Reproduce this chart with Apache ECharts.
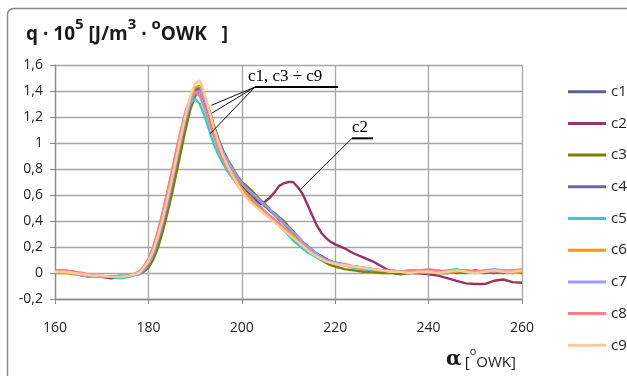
<!DOCTYPE html>
<html>
<head>
<meta charset="utf-8">
<script src="https://cdn.jsdelivr.net/npm/echarts@6/dist/echarts.min.js"></script>
<style>
  html, body { margin: 0; padding: 0; background: #fff; }
  #chart { width: 627px; height: 376px; }
</style>
</head>
<body>
<div id="chart"></div>
<script>
// crank angle samples (denser around the peak)
const alpha = [160, 162, 164, 166, 168, 170, 172, 174, 176,
  178, 179, 180, 181, 182, 183, 184, 185, 186, 187, 188, 189, 190, 191, 192, 193, 194, 195, 196, 197, 198, 199,
  200, 201, 202, 203, 204, 205, 206, 207, 208, 209, 210, 211, 212, 213, 214, 215, 216, 217, 218, 219, 220,
  222, 224, 226, 228, 230, 232, 234, 236, 238, 240, 242, 244, 246, 248, 250, 252, 254, 256, 258, 260]

const c1 = [0.02, 0.02, 0.01, -0.01, -0.02, -0.03, -0.03, -0.03, -0.02,
  0.00, 0.03, 0.08, 0.15, 0.26, 0.39, 0.54, 0.70, 0.87, 1.04, 1.20, 1.33, 1.42, 1.43, 1.34, 1.23, 1.11, 1.01, 0.92, 0.85, 0.79, 0.74,
  0.69, 0.66, 0.63, 0.59, 0.55, 0.52, 0.48, 0.45, 0.41, 0.38, 0.34, 0.31, 0.27, 0.24, 0.21, 0.18, 0.15, 0.13, 0.11, 0.09, 0.08,
  0.06, 0.05, 0.04, 0.03, 0.02, 0.02, 0.01, 0.01, 0.00, 0.01, 0.00, 0.01, 0.00, 0.01, 0.02, 0.01, 0.00, 0.01, 0.02, 0.01]
const c2 = [0.01, 0.01, 0.00, -0.02, -0.03, -0.03, -0.04, -0.03, -0.02,
  0.00, 0.03, 0.08, 0.16, 0.27, 0.40, 0.55, 0.71, 0.88, 1.05, 1.21, 1.33, 1.41, 1.40, 1.32, 1.22, 1.10, 1.00, 0.91, 0.84, 0.78, 0.72,
  0.67, 0.63, 0.59, 0.56, 0.53, 0.55, 0.58, 0.62, 0.67, 0.69, 0.70, 0.70, 0.66, 0.61, 0.53, 0.45, 0.37, 0.31, 0.27, 0.24, 0.22,
  0.19, 0.15, 0.12, 0.09, 0.05, 0.01, 0.00, 0.00, 0.00, -0.01, -0.02, -0.04, -0.06, -0.08, -0.085, -0.085, -0.06, -0.05, -0.07, -0.075]
const c3 = [0.01, 0.01, 0.00, -0.01, -0.02, -0.03, -0.03, -0.02, -0.02,
  -0.01, 0.01, 0.04, 0.10, 0.19, 0.31, 0.45, 0.60, 0.77, 0.94, 1.11, 1.26, 1.36, 1.40, 1.35, 1.26, 1.14, 1.03, 0.94, 0.87, 0.81, 0.75,
  0.70, 0.67, 0.64, 0.60, 0.56, 0.53, 0.49, 0.46, 0.43, 0.40, 0.36, 0.32, 0.28, 0.24, 0.20, 0.16, 0.13, 0.10, 0.08, 0.06, 0.05,
  0.03, 0.02, 0.01, 0.01, 0.00, 0.00, -0.01, 0.00, 0.00, 0.01, 0.00, 0.00, 0.01, 0.00, 0.01, 0.00, 0.01, 0.00, 0.01, 0.00]
const c4 = [0.01, 0.01, 0.00, -0.02, -0.03, -0.03, -0.03, -0.03, -0.02,
  0.00, 0.02, 0.07, 0.14, 0.25, 0.37, 0.52, 0.68, 0.85, 1.02, 1.18, 1.32, 1.41, 1.42, 1.35, 1.25, 1.13, 1.03, 0.94, 0.86, 0.80, 0.74,
  0.69, 0.65, 0.62, 0.58, 0.55, 0.51, 0.48, 0.45, 0.42, 0.38, 0.35, 0.31, 0.28, 0.24, 0.21, 0.18, 0.15, 0.13, 0.11, 0.09, 0.08,
  0.06, 0.05, 0.04, 0.03, 0.02, 0.01, 0.01, 0.00, 0.01, 0.00, 0.01, 0.00, 0.01, 0.02, 0.01, 0.00, 0.01, 0.02, 0.01, 0.01]
const c5 = [0.01, 0.01, 0.00, -0.02, -0.03, -0.03, -0.03, -0.04, -0.03,
  0.00, 0.04, 0.10, 0.19, 0.31, 0.45, 0.61, 0.77, 0.94, 1.09, 1.22, 1.31, 1.34, 1.30, 1.21, 1.10, 0.99, 0.91, 0.84, 0.78, 0.73, 0.69,
  0.65, 0.61, 0.58, 0.54, 0.51, 0.47, 0.44, 0.40, 0.36, 0.33, 0.29, 0.25, 0.22, 0.19, 0.16, 0.14, 0.12, 0.10, 0.09, 0.08, 0.07,
  0.06, 0.04, 0.03, 0.02, 0.02, 0.01, 0.01, 0.00, 0.01, 0.00, 0.01, 0.02, 0.03, 0.01, 0.00, 0.01, 0.02, 0.01, 0.00, 0.01]
const c6 = [0.00, 0.00, -0.01, -0.02, -0.03, -0.03, -0.03, -0.03, -0.02,
  0.00, 0.03, 0.08, 0.16, 0.27, 0.40, 0.55, 0.71, 0.88, 1.05, 1.21, 1.35, 1.43, 1.44, 1.36, 1.24, 1.11, 1.00, 0.91, 0.83, 0.77, 0.71,
  0.65, 0.61, 0.57, 0.53, 0.50, 0.47, 0.44, 0.41, 0.38, 0.35, 0.32, 0.29, 0.26, 0.23, 0.20, 0.17, 0.14, 0.12, 0.10, 0.09, 0.08,
  0.06, 0.05, 0.04, 0.03, 0.02, 0.01, 0.01, 0.02, 0.01, 0.00, 0.01, 0.00, 0.01, 0.02, 0.01, 0.01, 0.02, 0.01, 0.00, 0.01]
const c7 = [0.01, 0.01, 0.00, -0.02, -0.02, -0.03, -0.03, -0.03, -0.02,
  -0.01, 0.02, 0.07, 0.14, 0.25, 0.38, 0.53, 0.69, 0.86, 1.03, 1.19, 1.31, 1.39, 1.40, 1.33, 1.23, 1.12, 1.02, 0.93, 0.86, 0.80, 0.74,
  0.69, 0.65, 0.62, 0.59, 0.55, 0.52, 0.49, 0.45, 0.42, 0.38, 0.35, 0.31, 0.28, 0.24, 0.21, 0.18, 0.15, 0.12, 0.10, 0.09, 0.08,
  0.07, 0.05, 0.04, 0.03, 0.02, 0.02, 0.01, 0.01, 0.02, 0.01, 0.02, 0.01, 0.02, 0.01, 0.00, 0.02, 0.03, 0.02, 0.01, 0.02]
const c8 = [0.02, 0.02, 0.01, 0.00, -0.02, -0.02, -0.03, -0.03, -0.02,
  0.01, 0.05, 0.11, 0.20, 0.32, 0.46, 0.62, 0.78, 0.95, 1.11, 1.25, 1.35, 1.39, 1.36, 1.27, 1.16, 1.05, 0.95, 0.87, 0.80, 0.74, 0.68,
  0.63, 0.59, 0.56, 0.53, 0.50, 0.47, 0.44, 0.41, 0.38, 0.34, 0.31, 0.27, 0.24, 0.21, 0.18, 0.15, 0.13, 0.11, 0.09, 0.08, 0.07,
  0.06, 0.05, 0.04, 0.03, 0.02, 0.02, 0.01, 0.02, 0.02, 0.03, 0.02, 0.01, 0.02, 0.02, 0.01, 0.02, 0.01, 0.02, 0.02, 0.03]
const c9 = [0.01, 0.01, 0.00, -0.01, -0.02, -0.02, -0.03, -0.03, -0.02,
  0.00, 0.04, 0.09, 0.17, 0.28, 0.41, 0.56, 0.72, 0.89, 1.06, 1.22, 1.36, 1.46, 1.48, 1.38, 1.25, 1.12, 1.00, 0.90, 0.82, 0.75, 0.69,
  0.63, 0.58, 0.54, 0.51, 0.48, 0.45, 0.42, 0.39, 0.36, 0.33, 0.30, 0.27, 0.24, 0.21, 0.18, 0.15, 0.13, 0.11, 0.09, 0.08, 0.07,
  0.06, 0.05, 0.04, 0.03, 0.02, 0.01, 0.01, 0.00, 0.01, 0.01, 0.00, 0.01, 0.02, 0.01, 0.00, 0.01, 0.02, 0.01, 0.01, 0.02]

const seriesNames = ['c1', 'c2', 'c3', 'c4', 'c5', 'c6', 'c7', 'c8', 'c9']
const seriesValues = [c1, c2, c3, c4, c5, c6, c7, c8, c9]
const seriesColors = ['#5d5f96', '#993366', '#808000', '#6b6b9e', '#33cccc', '#ff9900', '#9999ff', '#ff8080', '#ffcc99']

const xTicks = [160, 180, 200, 220, 240, 260]
const yTicks = [-0.2, 0, 0.2, 0.4, 0.6, 0.8, 1, 1.2, 1.4, 1.6]

// annotation anchors in data units (dx = text shift from underline start)
const noteMain = { text: 'c1, c3 ÷ c9', dx: -7, from: [202.8, 1.43], to: [220.6, 1.43], targets: [[193.5, 1.29], [193.6, 1.23], [193.2, 1.07]] }
const noteC2 = { text: 'c2', dx: 0, from: [223.6, 1.036], to: [228.1, 1.036], targets: [[212.5, 0.64]] }

const chart = echarts.init(document.getElementById('chart'))

const fmtY = (v) => String(Math.round(v * 10) / 10).replace('.', ',')

chart.setOption({
  animation: false,
  grid: { left: 55, right: 105, top: 65, bottom: 77 },
  xAxis: {
    type: 'value',
    min: xTicks[0],
    max: xTicks[xTicks.length - 1],
    interval: 20,
    axisLine: { onZero: false, lineStyle: { color: '#8c8c8c', width: 1.3 } },
    axisTick: { show: true, length: 5, lineStyle: { color: '#8c8c8c' } },
    axisLabel: { color: '#222', fontSize: 14, fontFamily: 'Open Sans', margin: 22 },
    splitLine: { show: true, lineStyle: { color: '#a6a6a6', width: 1.3 } },
  },
  yAxis: {
    type: 'value',
    min: yTicks[0],
    max: yTicks[yTicks.length - 1],
    interval: 0.2,
    axisLine: { show: true, lineStyle: { color: '#8c8c8c', width: 1.3 } },
    axisTick: { show: true, length: 5, lineStyle: { color: '#8c8c8c' } },
    axisLabel: { color: '#222', fontSize: 14, fontFamily: 'Open Sans', margin: 12, formatter: fmtY },
    splitLine: { show: true, lineStyle: { color: '#a6a6a6', width: 1.3 } },
  },
  legend: {
    orient: 'vertical',
    left: 563,
    top: 78.7,
    icon: 'rect',
    itemWidth: 38,
    itemHeight: 3,
    itemGap: 15.7,
    textStyle: { color: '#222', fontSize: 15, lineHeight: 16, fontFamily: 'Open Sans' },
    data: seriesNames,
  },
  series: seriesNames.map((name, k) => ({
    name,
    type: 'line',
    symbol: 'none',
    z: 2 + k,
    data: alpha.map((a, i) => [a, seriesValues[k][i]]),
    lineStyle: { color: seriesColors[k], width: 2.4 },
    itemStyle: { color: seriesColors[k] },
  })),
})

const toPx = (p) => chart.convertToPixel({ gridIndex: 0 }, p)

function buildNote(note) {
  const a = toPx(note.from)
  const b = toPx(note.to)
  const els = [
    { type: 'line', shape: { x1: a[0], y1: a[1], x2: b[0], y2: b[1] }, style: { stroke: '#000', lineWidth: 2 }, z: 50 },
    { type: 'text', x: a[0] + note.dx, y: a[1] - 2, style: { text: note.text, font: '17px "Liberation Serif"', fill: '#000', textVerticalAlign: 'bottom' }, z: 50 },
  ]
  note.targets.forEach((t) => {
    const p = toPx(t)
    els.push({ type: 'line', shape: { x1: a[0], y1: a[1], x2: p[0], y2: p[1] }, style: { stroke: '#111', lineWidth: 1 }, z: 50 })
  })
  return els
}

chart.setOption({
  graphic: [
    { type: 'rect', shape: { x: 7.5, y: 8.5, width: 800, height: 600, r: 6 }, style: { fill: 'none', stroke: '#8a8a8a', lineWidth: 1.5 }, z: -1 },
    {
      type: 'text', x: 26, y: 17,
      style: {
        text: '{b|q · 10}{s|5}{b| [J/m}{s|3}{b| · }{s|o}{b|OWK   ]}',
        fill: '#1a1a1a',
        rich: {
          b: { fontSize: 19, fontWeight: 'bold', fontFamily: 'Open Sans', lineHeight: 27, verticalAlign: 'bottom', fill: '#1a1a1a' },
          s: { fontSize: 15, fontWeight: 'bold', fontFamily: 'Open Sans', lineHeight: 27, verticalAlign: 'top', fill: '#1a1a1a' },
        },
      },
    },
    {
      type: 'text', x: 446, y: 346,
      style: {
        text: '{a|α} {b|[}{s|o}{b|OWK]}',
        fill: '#1a1a1a',
        rich: {
          a: { fontSize: 20, fontWeight: 'bold', fontFamily: 'DejaVu Serif', lineHeight: 24, verticalAlign: 'bottom', fill: '#1a1a1a' },
          b: { fontSize: 15, fontFamily: 'Open Sans', lineHeight: 24, verticalAlign: 'bottom', fill: '#1a1a1a' },
          s: { fontSize: 11, fontFamily: 'Open Sans', lineHeight: 24, verticalAlign: 'top', fill: '#1a1a1a' },
        },
      },
    },
    ...buildNote(noteMain),
    ...buildNote(noteC2),
  ],
})
</script>
</body>
</html>
